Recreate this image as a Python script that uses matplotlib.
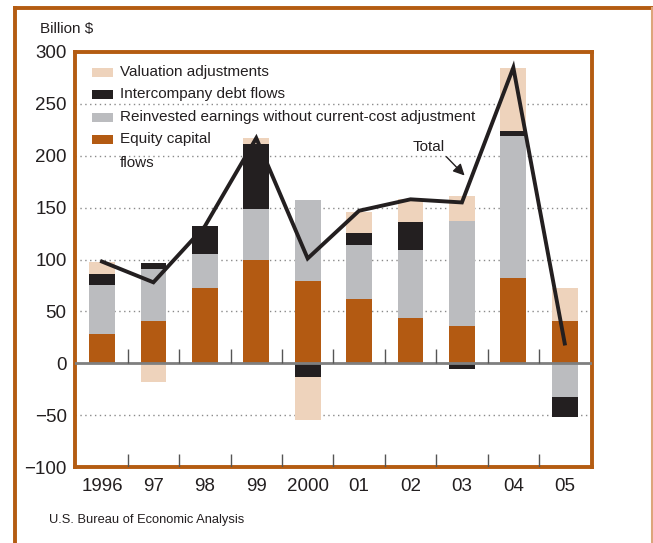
import matplotlib

matplotlib.use("Agg")
import matplotlib.pyplot as plt  # noqa: E402
import numpy as np  # noqa: E402
from matplotlib.lines import Line2D  # noqa: E402
from matplotlib.patches import Rectangle  # noqa: E402

plt.rcParams["font.family"] = ["Liberation Sans", "DejaVu Sans"]

years = ["1996", "97", "98", "99", "2000", "01", "02", "03", "04", "05"]
equity = [28, 41, 73, 100, 79, 62, 44, 36, 82, 41]
reinvested = [47, 50, 32, 49, 78, 52, 65, 101, 137, -33]
debt = [11, 6, 27, 62, -13, 12, 27, -6, 5, -19]
valuation = [12, -18, 0, 6, -42, 20, 22, 24, 61, 32]
total = [98, 78, 132, 217, 101, 147, 158, 155, 285, 19]

y_ticks = [-100, -50, 0, 50, 100, 150, 200, 250, 300]
grid_levels = [-50, 50, 100, 150, 200, 250]

ORANGE = "#b45c12"
C_EQUITY = "#b35a12"
C_REINV = "#bbbcbf"
C_DEBT = "#231f20"
C_VAL = "#eed3bc"

fig = plt.figure(figsize=(6.53, 5.43), dpi=100)
ax = fig.add_axes([75 / 653, 1 - 467 / 543, 517 / 653, 415 / 543])

x = np.arange(len(years))
width = 0.5

for lvl in grid_levels:
    ax.axhline(lvl, color="#8a8a8a", linewidth=1, linestyle=(0, (1, 2.5)), zorder=1)

# stacked bars: positives build up from zero, negatives build down
pos_base = np.zeros(len(years))
neg_base = np.zeros(len(years))
for vals, col in [(equity, C_EQUITY), (reinvested, C_REINV), (debt, C_DEBT), (valuation, C_VAL)]:
    vals = np.array(vals, dtype=float)
    base = np.where(vals >= 0, pos_base, neg_base)
    ax.bar(x, vals, width, bottom=base, color=col, linewidth=0, zorder=2)
    pos_base = pos_base + np.clip(vals, 0, None)
    neg_base = neg_base + np.clip(vals, None, 0)

ax.axhline(0, color="#7f7f7f", linewidth=2, zorder=3)
mids = x[:-1] + 0.5
ax.vlines(mids, 0, 14, color="#555555", linewidth=1, zorder=3)
ax.vlines(mids, -100, -87, color="#555555", linewidth=1, zorder=3)

ax.plot(x, total, color=C_DEBT, linewidth=2.8, zorder=4, solid_joinstyle="miter")

ax.annotate(
    "",
    xy=(x[7] + 0.09, 179),
    xytext=(x[7] - 0.34, 201),
    arrowprops=dict(arrowstyle="-|>", color=C_DEBT, lw=1, mutation_scale=17),
    zorder=5,
)
ax.text(x[7] - 0.65, 208, "Total", fontsize=11, ha="center", va="center", color="#231f20")

ax.set_xlim(-0.525, 9.53)
ax.set_ylim(-100, 300)
ax.set_xticks(x)
ax.set_xticklabels(years)
ax.set_yticks(y_ticks)
ax.set_yticklabels([str(v).replace("-", "\u2212") for v in y_ticks])
ax.tick_params(axis="both", length=0, labelsize=13.5, colors="#231f20")
ax.tick_params(axis="y", pad=6)
ax.tick_params(axis="x", pad=8)
for sp in ax.spines.values():
    sp.set_color(ORANGE)
    sp.set_linewidth(2.8)

# legend
legend_items = [
    (C_VAL, "Valuation adjustments"),
    (C_DEBT, "Intercompany debt flows"),
    (C_REINV, "Reinvested earnings without current-cost adjustment"),
    (C_EQUITY, "Equity capital\nflows"),
]
for i, (col, lab) in enumerate(legend_items):
    yp = 1 - 72.5 / 543 - i * 22.3 / 543
    fig.patches.append(
        Rectangle((92 / 653, yp - 4.5 / 543), 21 / 653, 9 / 543, transform=fig.transFigure,
                  facecolor=col, edgecolor="none", zorder=6)
    )
    fig.text(120 / 653, yp + 7.5 / 543, lab, fontsize=11, va="top", ha="left",
             color="#231f20", linespacing=1.95)

fig.text(40 / 653, 1 - 29 / 543, "Billion $", fontsize=11, va="center", ha="left", color="#231f20")
fig.text(49 / 653, 1 - 520 / 543, "U.S. Bureau of Economic Analysis", fontsize=9.3,
         va="center", ha="left", color="#231f20")

# outer frame (cut off on right and bottom)
fig.add_artist(Line2D([15 / 653, 1.0], [1 - 7.5 / 543, 1 - 7.5 / 543], transform=fig.transFigure,
                      color=ORANGE, linewidth=2.8))
fig.add_artist(Line2D([15 / 653, 15 / 653], [1 - 7.5 / 543, 0.0], transform=fig.transFigure,
                      color=ORANGE, linewidth=2.8))
fig.add_artist(Line2D([652 / 653, 652 / 653], [1 - 7.5 / 543, 0.0], transform=fig.transFigure,
                      color="#dca57a", linewidth=1.5))

fig.savefig("out.png", dpi=100)
